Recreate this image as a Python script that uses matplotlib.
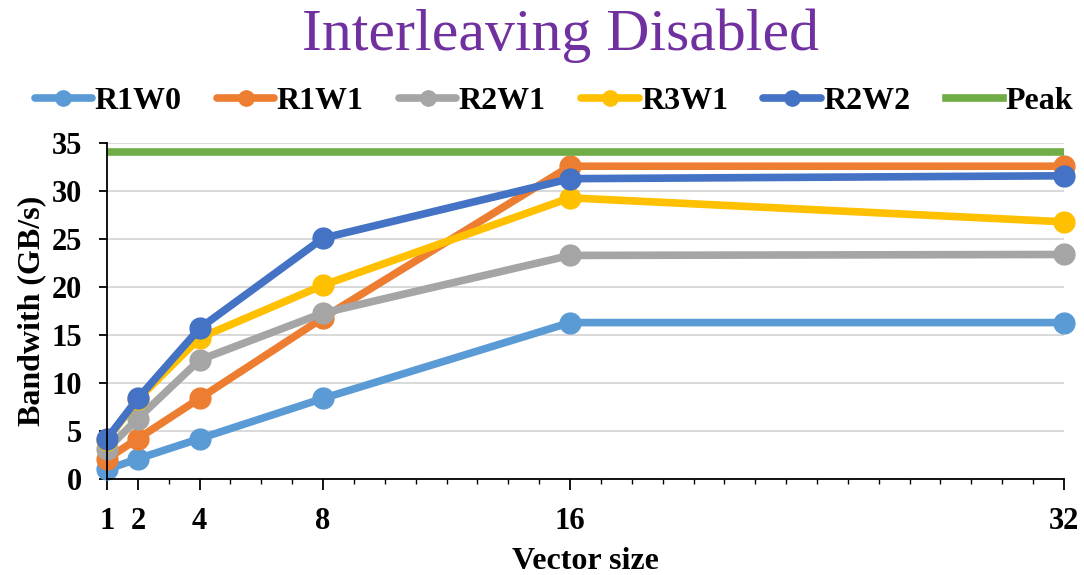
import matplotlib
matplotlib.use('Agg')
import matplotlib.pyplot as plt
from matplotlib.ticker import MultipleLocator

plt.rcParams['font.family'] = ['Liberation Serif', 'DejaVu Serif']

# datos
vec_size = [1, 2, 4, 8, 16, 32]
r1w0 = [1.0, 2.1, 4.2, 8.4, 16.3, 16.3]
r1w1 = [2.1, 4.2, 8.4, 16.8, 32.6, 32.6]
r2w1 = [3.1, 6.3, 12.4, 17.3, 23.3, 23.4]
r3w1 = [4.1, 8.3, 14.7, 20.2, 29.3, 26.8]
r2w2 = [4.2, 8.4, 15.7, 25.1, 31.3, 31.6]
peak = [34.1, 34.1]
peak_x = [1, 32]

series = [('R1W0', r1w0, '#5B9BD5'),
          ('R1W1', r1w1, '#ED7D31'),
          ('R2W1', r2w1, '#A5A5A5'),
          ('R3W1', r3w1, '#FFC000'),
          ('R2W2', r2w2, '#4472C4')]

fig = plt.figure(figsize=(10.84, 5.75), dpi=100)
ax = fig.add_axes([0.0987, 0.167, 0.8828, 0.584])

for nombre, vals, color in series:
    ax.plot(vec_size, vals, color=color, lw=5.5, marker='o', ms=15,
            label=nombre, solid_capstyle='round', clip_on=False)
ax.plot(peak_x, peak, color='#70AD47', lw=5.5, label='Peak')

ax.set_xlim(1, 32)
ax.set_ylim(0, 35)
ax.set_xticks(vec_size)
ax.xaxis.set_minor_locator(MultipleLocator(1))
ax.set_yticks(range(0, 36, 5))
ax.grid(axis='y', color='#D9D9D9', lw=1.4)
ax.set_axisbelow(True)

for s in ['top', 'right']:
    ax.spines[s].set_visible(False)
for s in ['left', 'bottom']:
    ax.spines[s].set_linewidth(1.3)

ax.tick_params(axis='x', which='major', length=8, width=1.3, pad=12)
ax.tick_params(axis='x', which='minor', length=3.5, width=1)
ax.tick_params(axis='y', length=6, width=1.3, pad=12)
for lab in ax.get_xticklabels() + ax.get_yticklabels():
    lab.set_fontsize(22)
    lab.set_fontweight('bold')

ax.set_xlabel('Vector size', fontsize=23, fontweight='bold', labelpad=8)
ax.set_ylabel('Bandwith (GB/s)', fontsize=23, fontweight='bold', labelpad=4)

fig.suptitle('Interleaving Disabled', x=0.517, y=0.985, fontsize=43,
             color='#7030A0')

leg = fig.legend(loc='center', bbox_to_anchor=(0.511, 0.823), ncol=6,
                 frameon=False, prop={'size': 23, 'weight': 'bold'},
                 handlelength=1.8, columnspacing=1.1, handletextpad=0.08,
                 borderaxespad=0, borderpad=0)
for h in leg.legend_handles:
    h.set_markersize(11)

plt.savefig('out.png', dpi=100)
